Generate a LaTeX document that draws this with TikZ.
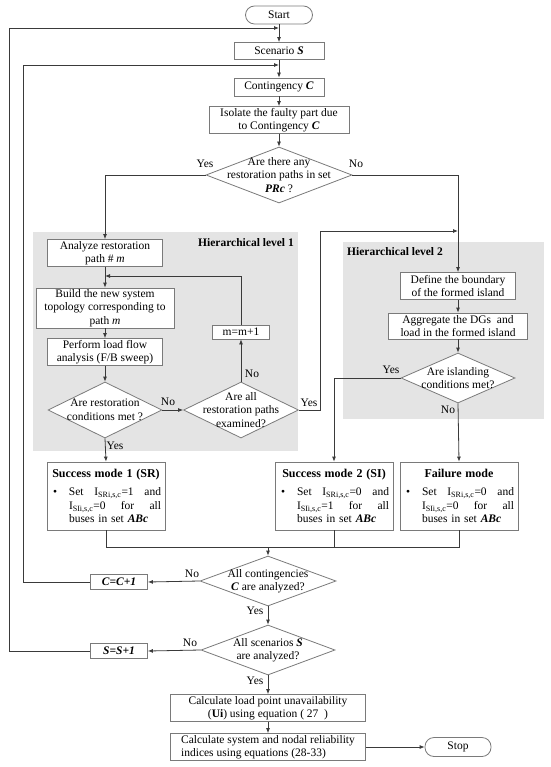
\documentclass[tikz,border=0pt]{standalone}
\usepackage{fontspec}
\setmainfont{Liberation Serif}
\usetikzlibrary{shapes.geometric,arrows.meta}
\definecolor{lncol}{HTML}{3A3A3A}
\definecolor{bdcol}{HTML}{7A7A7A}
\definecolor{gbg}{HTML}{E4E4E4}
\newcommand{\smtext}[4]{{\centering\fontsize{12}{14}\selectfont\textbf{#1}\par}\vspace{5pt}\noindent\makebox[19pt][l]{\hspace{3pt}\textbullet}\parbox[t]{92pt}{\hbox to 92pt{#2}\hbox to 92pt{#3}\hbox{#4}}}
\begin{document}
\begin{tikzpicture}[x=1pt,y=-1pt,
  font=\fontsize{11.5}{13.5}\selectfont,
  box/.style={draw=bdcol,fill=white,line width=0.8pt,inner sep=0pt,align=center},
  pill/.style={box,rounded corners=9pt},
  dia/.style={draw=bdcol,fill=white,line width=0.8pt,shape=diamond,inner sep=0pt},
  lab/.style={align=center,inner sep=0pt},
  smbox/.style={draw=bdcol,fill=white,line width=0.8pt,inner xsep=3pt,inner ysep=3pt,text width=112pt,minimum height=68pt},
  arr/.style={draw=lncol,line width=0.8pt,-{Latex[length=5pt,width=4pt]}},
  lnk/.style={draw=lncol,line width=0.8pt},
  yn/.style={inner sep=1pt}]
\useasboundingbox (0,0) rectangle (550,767);

% grey backgrounds
\fill[gbg] (33,232) rectangle (298,451);
\fill[gbg] (343,242) rectangle (544,419);
\node[anchor=east,inner sep=0pt] (h1) at (294,243) {\textbf{Hierarchical level 1}};
\node[anchor=west,inner sep=0pt] (h2) at (347,252) {\textbf{Hierarchical level 2}};

% top column
\node[pill,minimum width=67pt,minimum height=18pt] (start) at (279,15) {Start};
\node[box,minimum width=90pt,minimum height=17pt] (scen) at (279,51) {Scenario \textbf{\textit{S}}};
\node[box,minimum width=90pt,minimum height=18pt] (cont) at (279,87) {Contingency \textbf{\textit{C}}};
\node[box,minimum width=140pt,minimum height=27pt] (iso) at (279,120) {Isolate the faulty part due\\to Contingency \textbf{\textit{C}}};
\node[dia,minimum width=146pt,minimum height=56pt,
  label={[lab]center:{Are there any\\restoration paths in set\\\textbf{\textit{PRc}} ?}}] (d1) at (279,175) {};

% level 1
\node[box,minimum width=115pt,minimum height=27pt] (ana) at (105,253) {Analyze restoration\\path \# \textit{m}};
\node[box,minimum width=138pt,minimum height=40pt] (build) at (105,308) {Build the new system\\topology corresponding to\\path \textit{m}};
\node[box,minimum width=115pt,minimum height=27pt] (perf) at (105,352) {Perform load flow\\analysis (F/B sweep)};
\node[dia,minimum width=114pt,minimum height=56pt,
  label={[lab]center:{Are restoration\\conditions met ?}}] (d2) at (105,410) {};
\node[dia,minimum width=115pt,minimum height=56pt,
  label={[lab]center:{Are all\\restoration paths\\examined?}}] (d3) at (241,410) {};
\node[box,minimum width=57pt,minimum height=14pt] (mp) at (241,332) {m=m+1};

% level 2
\node[box,minimum width=115pt,minimum height=27pt] (def) at (458,286) {Define the boundary\\of the formed island};
\node[box,minimum width=139pt,minimum height=26pt] (agg) at (458,326) {Aggregate the DGs\ \ and\\load in the formed island};
\node[dia,minimum width=114pt,minimum height=50pt,
  label={[lab]center:{Are islanding\\conditions met?}}] (d4) at (458,378) {};

% outcome boxes
\node[smbox] (sm1) at (106,496) {\smtext{Success mode 1 (SR)}{Set\hfill I\textsubscript{SRi,s,c}=1\hfill and}{I\textsubscript{SIi,s,c}=0\hfill for\hfill all}{buses in set \textbf{\textit{ABc}}}};
\node[smbox] (sm2) at (334,496) {\smtext{Success mode 2 (SI)}{Set\hfill I\textsubscript{SRi,s,c}=0\hfill and}{I\textsubscript{SIi,s,c}=1\hfill for\hfill all}{buses in set \textbf{\textit{ABc}}}};
\node[smbox] (fail) at (459,496) {\smtext{Failure mode}{Set\hfill I\textsubscript{SRi,s,c}=0\hfill and}{I\textsubscript{SIi,s,c}=0\hfill for\hfill all}{buses in set \textbf{\textit{ABc}}}};

% bottom part
\coordinate (mrg) at (268,547);
\node[dia,minimum width=136pt,minimum height=50pt,
  label={[lab]center:{All contingencies\\\textbf{\textit{C}} are analyzed?}}] (d5) at (268,581) {};
\node[box,minimum width=57pt,minimum height=15pt] (cp) at (119,582) {\textbf{\textit{C=C+1}}};
\node[dia,minimum width=134pt,minimum height=50pt,
  label={[lab]center:{All scenarios \textbf{\textit{S}}\\are analyzed?}}] (d6) at (268,650) {};
\node[box,minimum width=57pt,minimum height=15pt] (sp) at (119,651) {\textbf{\textit{S=S+1}}};
\node[box,minimum width=195pt,minimum height=27pt] (c1) at (268,708) {Calculate load point unavailability\\(\textbf{Ui}) using equation ( 27\ \ )};
\node[box,minimum width=195pt,minimum height=27pt,align=left] (c2) at (268,747) {Calculate system and nodal reliability\\indices using equations (28-33)};
\node[pill,minimum width=66pt,minimum height=19pt] (stop) at (458,747) {Stop};

% helper coordinates
\coordinate (j1) at (279,28);
\coordinate (j2) at (279,65);
\coordinate (lx1) at (9,0);
\coordinate (lx2) at (23,0);
\coordinate (j3) at (105,276);
\coordinate (k1) at (320,231);
\coordinate (j4) at (458,231);

% connectors
\draw[arr] (start) -- (scen);
\draw[arr] (scen) -- (cont);
\draw[arr] (cont) -- (iso);
\draw[arr] (iso) -- (d1);
\draw[arr] (d1.west) -| (ana.north);
\draw[arr] (d1.east) -| (def.north);
\draw[arr] (ana) -- (build);
\draw[arr] (build) -- (perf);
\draw[arr] (perf) -- (d2);
\draw[arr] (d2.east) -- (d3.west);
\draw[arr] (d3.north) -- (mp.south);
\draw[arr] (mp.north) |- (j3);
\draw[arr] (d3.east) -| (k1) -- (j4);
\draw[arr] (d2.south) -- (sm1.north);
\draw[arr] (def) -- (agg);
\draw[arr] (agg) -- (d4);
\draw[arr] (d4.west) -| (sm2.north);
\draw[arr] (d4.south) -- (fail.north);
\draw[lnk] (sm1.south) |- (fail.south |- mrg) -- (fail.south);
\draw[lnk] (sm2.south) -- (sm2.south |- mrg);
\draw[arr] (mrg) -- (d5.north);
\draw[arr] (d5.west) -- (cp.east);
\draw[arr] (cp.west) -- (cp.west -| lx2) |- (j2);
\draw[arr] (d5.south) -- (d6.north);
\draw[arr] (d6.west) -- (sp.east);
\draw[arr] (sp.west) -- (sp.west -| lx1) |- (j1);
\draw[arr] (d6.south) -- (c1.north);
\draw[arr] (c1) -- (c2);
\draw[arr] (c2.east) -- (stop.west);

% yes / no labels
\node[yn] (y1) at (205,164) {Yes};
\node[yn] (n1) at (356,164) {No};
\node[yn] (n2) at (168,402) {No};
\node[yn] (n3) at (252,374) {No};
\node[yn] (y2) at (309,403) {Yes};
\node[yn] (y3) at (115,446) {Yes};
\node[yn] (y4) at (391,370) {Yes};
\node[yn] (n4) at (448,410) {No};
\node[yn] (n5) at (192,574) {No};
\node[yn] (y5) at (255,611) {Yes};
\node[yn] (n6) at (190,643) {No};
\node[yn] (y6) at (255,681) {Yes};
\end{tikzpicture}
\end{document}
